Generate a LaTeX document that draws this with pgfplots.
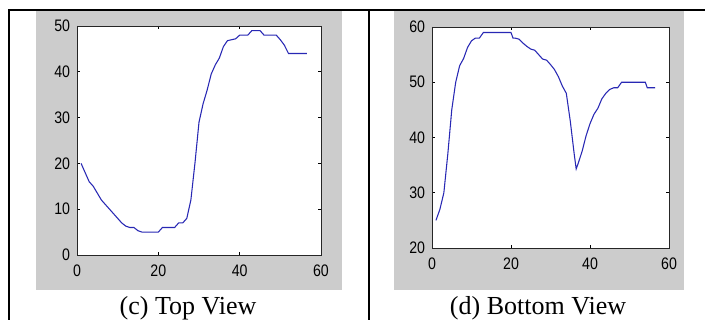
\documentclass[border=0pt]{standalone}
\usepackage{fontspec}
\setmainfont{Liberation Serif}
\newfontfamily\tickfont[FakeStretch=0.85]{Liberation Sans}
\usepackage{pgfplots}
\pgfplotsset{compat=1.18}
\definecolor{matgray}{RGB}{204,204,204}
\definecolor{matblue}{RGB}{40,40,180}
\pgfplotsset{matstyle/.style={
  scale only axis,
  axis background/.style={fill=white},
  axis line style={black!85, line width=0.6pt},
  tick align=inside,
  tick pos=both,
  major tick length=2.5pt,
  tick style={black, line width=0.5pt},
  /pgf/number format/assume math mode=true,
  ticklabel style={font=\tickfont\fontsize{12.5}{13}\selectfont, inner sep=0pt},
  yticklabel style={xshift=-5pt},
  xticklabel style={yshift=-7pt},
  xmin=0, xmax=60, xtick={0,20,40,60},
}}
\begin{document}
\begin{tikzpicture}
\useasboundingbox (0,0) rectangle (528.75pt,240pt);
% gray backgrounds
\fill[matgray] (27pt,22.5pt) rectangle (256.5pt,231.75pt);
\fill[matgray] (295.5pt,22.5pt) rectangle (513pt,231.75pt);
% table lines
\draw[line width=1.5pt] (6.75pt,0pt) -- (6.75pt,232.5pt) -- (528.75pt,232.5pt);
\draw[line width=1.5pt] (276.75pt,0pt) -- (276.75pt,232.5pt);
% captions
\node[anchor=base, font=\fontsize{19.5}{22}\selectfont, inner sep=0pt] at (141pt,3.75pt) {(c) Top View};
\node[anchor=base, font=\fontsize{19.5}{22}\selectfont, inner sep=0pt] at (403.5pt,3.75pt) {(d) Bottom View};
% left axis
\begin{axis}[matstyle, at={(57.75pt,48.75pt)}, anchor=south west,
  width=183pt, height=171.75pt,
  ymin=0, ymax=50, ytick={0,10,20,30,40,50}]
\addplot[matblue, line width=0.8pt, mark=none] coordinates {
(1,20) (2,18) (3,16) (4,15) (5,13.5) (6,12) (7,11) (8,10) (9,9) (10,8)
(11,7) (12,6.3) (13,6) (14,6) (15,5.3) (16,5) (17,5) (18,5) (19,5) (20,5)
(21,6) (22,6) (23,6) (24,6) (25,7) (26,7) (27,8) (28,12) (29,20) (30,29)
(31,33) (32,36) (33,39.5) (34,41.5) (35,43) (36,45.5) (37,46.8) (38,47) (39,47.2) (40,48)
(41,48) (42,48) (43,49) (44,49) (45,49) (46,48) (47,48) (48,48) (49,48) (50,47)
(51,45.8) (52,44) (53,44) (54,44) (55,44) (56,44) (56.5,44)
};
\end{axis}
% right axis
\begin{axis}[matstyle, at={(324pt,54pt)}, anchor=south west,
  width=177.75pt, height=165.75pt,
  ymin=20, ymax=60, ytick={20,30,40,50,60}]
\addplot[matblue, line width=0.8pt, mark=none] coordinates {
(1,25) (2,27) (3,30) (4,37) (5,45) (6,50) (7,53) (8,54.3) (9,56.3) (10,57.5)
(11,58) (12,58) (13,59) (14,59) (15,59) (16,59) (17,59) (18,59) (19,59) (20,59)
(20.5,58) (21,58) (22,57.8) (23,57.1) (24,56.5) (25,56) (26,55.8) (27,55) (28,54.2) (29,54)
(30,53.2) (31,52.3) (32,51) (33,49.3) (34,48) (35,43) (36,37) (36.5,34.3) (37,35.3) (38,37.5)
(39,40.3) (40,42.5) (41,44.2) (42,45.3) (43,47) (44,48) (45,48.7) (46,49) (47,49) (48,50)
(49,50) (50,50) (51,50) (52,50) (53,50) (54,50) (54.5,49) (55,49) (56,49) (56.5,49)
};
\end{axis}
\end{tikzpicture}
\end{document}
